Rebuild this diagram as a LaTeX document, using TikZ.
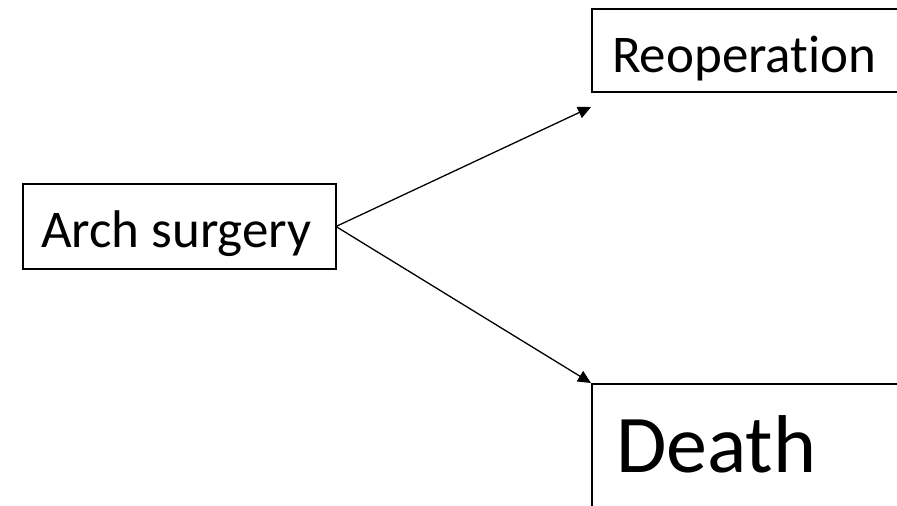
\documentclass[tikz,border=0pt]{standalone}
\usepackage{fontspec}
\setmainfont{Carlito}[Ligatures=NoCommon]
\usetikzlibrary{arrows.meta}
\begin{document}
\begin{tikzpicture}[x=1pt,y=-1pt,
  boxstyle/.style={draw=black,line width=1.5pt,inner sep=0pt,outer sep=0pt,rectangle},
  labelstyle/.style={inner sep=0pt,outer sep=0pt,anchor=base west},
  arrowstyle/.style={line width=1.3pt,-{Triangle[length=13pt,width=12pt]}}]
\useasboundingbox (0,0) rectangle (897,506);
\clip (0,0) rectangle (897,506);
\fill[white] (0,0) rectangle (897,506);
% boxes
\node[boxstyle,minimum width=313pt,minimum height=85pt] (arch) at (179.5,226.5) {};
\node[boxstyle,minimum width=340pt,minimum height=83pt,anchor=north west] (reop) at (592,9) {};
\node[boxstyle,minimum width=340pt,minimum height=160pt,anchor=north west] (death) at (592,384) {};
% texts
\node[labelstyle,font=\fontsize{53}{60}\selectfont] (archtext) at (41,247) {Arch surgery};
\node[labelstyle,font=\fontsize{53}{60}\selectfont] (reoptext) at (612,72) {Reoperation};
\node[labelstyle,font=\fontsize{82}{90}\selectfont] (deathtext) at (616,472) {Death};
% arrow end points
\coordinate (uptip) at (591,107);
\coordinate (downtip) at (591,383);
\draw[arrowstyle] (arch.east) -- (uptip);
\draw[arrowstyle] (arch.east) -- (downtip);
\end{tikzpicture}
\end{document}
